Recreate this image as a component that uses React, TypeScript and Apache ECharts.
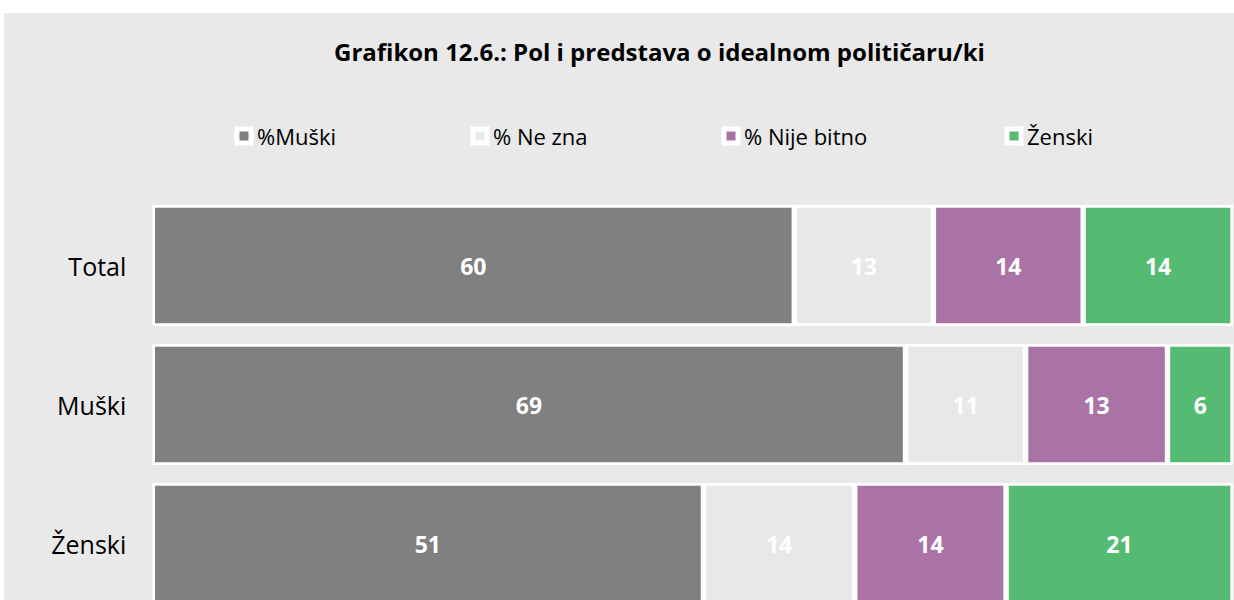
import React, { useEffect, useRef } from "react";
import * as echarts from "echarts";

const categories = ["Total", "Muški", "Ženski"];
const seriesNames = ["%Muški", "% Ne zna", "% Nije bitno", "Ženski"];
const muski = [60, 69, 51];
const neZna = [13, 11, 14];
const nijeBitno = [14, 13, 14];
const zenski = [14, 6, 21];
const colors = ["#808080", "#e8e8e8", "#a974a5", "#55bb73"];
const titleText = "Grafikon 12.6.: Pol i predstava o idealnom političaru/ki";

const FONT = "'Open Sans', 'Noto Sans', sans-serif";

export default function App() {
  const ref = useRef<HTMLDivElement>(null);
  useEffect(() => {
    if (!ref.current) return;
    const chart = echarts.init(ref.current, null, { renderer: "svg" });
    const raw = [muski, neZna, nijeBitno, zenski];
    const totals = categories.map((_, i) => raw.reduce((s, arr) => s + arr[i], 0));
    const legendLefts = [230.5, 466.5, 717.5, 1000.5];
    chart.setOption({
      animation: false,
      backgroundColor: "#e9e9e9",
      title: {
        text: titleText,
        left: 330,
        top: 26,
        padding: 0,
        textStyle: { fontFamily: FONT, fontSize: 24, fontWeight: "bold", color: "#000" },
      },
      legend: seriesNames.map((n, i) => ({
        data: [n],
        left: legendLefts[i],
        top: 112,
        padding: 0,
        icon: "rect",
        itemWidth: 14,
        itemHeight: 14,
        itemGap: 0,
        itemStyle: { borderColor: "#fff", borderWidth: 5 },
        textStyle: { fontFamily: FONT, fontSize: 22, color: "#000", padding: [0, 0, 0, 1] },
      })),
      grid: { left: 148.3, right: 1, top: 183, bottom: 0, containLabel: false },
      xAxis: { type: "value", min: 0, max: 100, show: false },
      yAxis: {
        type: "category",
        data: categories,
        inverse: true,
        axisLine: { show: false },
        axisTick: { show: false },
        axisLabel: { fontFamily: FONT, fontSize: 25, color: "#000", margin: 26 },
      },
      series: seriesNames.map((n, si) => ({
        name: n,
        type: "bar",
        stack: "all",
        barCategoryGap: "13%",
        data: raw[si].map((v, ci) => ({ value: (v / totals[ci]) * 100, raw: v })),
        itemStyle: { color: colors[si], borderColor: "#fff", borderWidth: 2.7 },
        label: {
          show: true,
          position: "inside",
          color: "#fff",
          fontFamily: FONT,
          fontSize: 23,
          fontWeight: "bold",
          formatter: (p: any) => String(raw[si][p.dataIndex]),
        },
      })),
    });
    return () => chart.dispose();
  }, []);
  return (
    <div
      ref={ref}
      style={{ position: "fixed", left: 4, top: 13, width: 1230, height: 600 }}
    />
  );
}
